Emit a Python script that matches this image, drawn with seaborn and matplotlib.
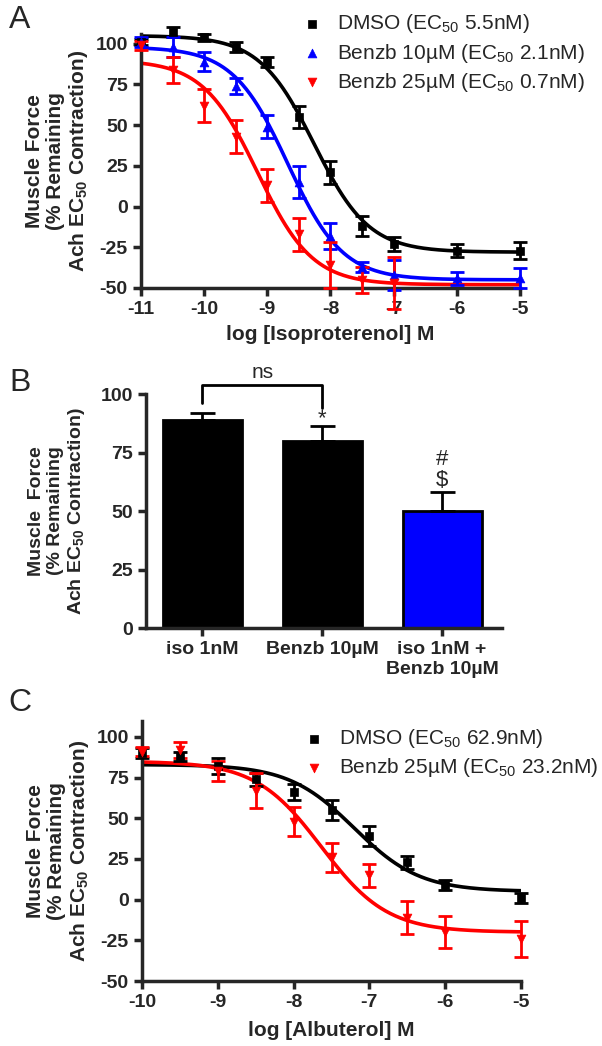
import numpy as np
import pandas as pd
import matplotlib
matplotlib.use('Agg')
import matplotlib.pyplot as plt
import seaborn as sns

# ---- panel A: isoproterenol dose response ----
iso_logdose = [-11, -10.5, -10, -9.5, -9, -8.5, -8, -7.5, -7, -6, -5]
iso_dmso = [101, 107, 104, 98, 89, 55, 21, -12, -23, -27, -27]
iso_dmso_err = [2, 3, 2, 3, 3, 7, 7, 6, 4, 4, 5]
iso_benz10 = [101, 98, 89, 74, 49, 15, -18, -37, -42, -44, -44]
iso_benz10_err = [3, 6, 6, 5, 7, 10, 8, 3, 9, 4, 6]
iso_logdose_b25 = [-11, -10.5, -10, -9.5, -9, -8.5, -8, -7.5, -7]
iso_benz25 = [99, 84, 62, 43, 13, -17, -36, -45, -47]
iso_benz25_err = [3, 8, 10, 10, 10, 10, 14, 8, 16]
# fitted curves: top, bottom, logEC50, hill
iso_fit_dmso = (105, -28, np.log10(5.5e-9), 1.0)
iso_fit_benz10 = (98, -45, np.log10(2.1e-9), 1.0)
iso_fit_benz25 = (90, -48, np.log10(0.7e-9), 1.0)

# ---- panel B: single dose bars ----
bar_labels = ['iso 1nM', 'Benzb 10µM', 'iso 1nM +\nBenzb 10µM']
bar_means = [89, 80, 50]
bar_sem = [3, 6.5, 8]
bar_colors = ['black', 'black', '#0000ff']

# ---- panel C: albuterol dose response ----
alb_logdose = [-10, -9.5, -9, -8.5, -8, -7.5, -7, -6.5, -6, -5]
alb_dmso = [90, 88, 82, 74, 66, 55, 39, 23, 9, 1]
alb_dmso_err = [3, 3, 5, 4, 5, 6, 6, 4, 3, 3]
alb_benz25 = [91, 92, 79, 67, 48, 26, 15, -11, -20, -24]
alb_benz25_err = [3, 5, 6, 11, 9, 9, 7, 10, 10, 11]
alb_fit_dmso = (83, 5, np.log10(62.9e-9), 1.0)
alb_fit_benz25 = (85, -20, np.log10(23.2e-9), 1.0)

sns.set_style('ticks')
plt.rcParams['font.family'] = ['Liberation Sans', 'DejaVu Sans']
plt.rcParams['mathtext.fontset'] = 'custom'
plt.rcParams['mathtext.rm'] = 'Liberation Sans'
plt.rcParams['mathtext.bf'] = 'Liberation Sans:bold'
plt.rcParams['axes.unicode_minus'] = False

YLAB = 'Muscle Force\n(% Remaining\nAch EC$\\mathbf{_{50}}$ Contraction)'
LW = 2.5


def four_pl(x, top, bottom, logec50, hill):
    return bottom + (top - bottom) / (1 + 10 ** ((x - logec50) * hill))


def style_axes(ax, ylab=YLAB, size=15, pad=4):
    sns.despine(ax=ax)
    for s in ['left', 'bottom']:
        ax.spines[s].set_linewidth(LW)
    ax.tick_params(width=LW, length=6, labelsize=14)
    for t in ax.get_xticklabels() + ax.get_yticklabels():
        t.set_fontweight('bold')
    ax.set_ylabel(ylab, fontsize=size, fontweight='bold', linespacing=1.12, labelpad=pad)


def dose_panel(ax, series, xlim, ylim):
    xs = np.linspace(xlim[0], xlim[1], 300)
    for x, y, err, fit, col, mk, lab in series:
        ax.errorbar(x, y, yerr=err, fmt='none', ecolor=col, elinewidth=2,
                    capsize=5, capthick=2, clip_on=False, zorder=3)
        sns.lineplot(x=xs, y=four_pl(xs, *fit), color=col, lw=2.6, ax=ax, zorder=2)
        sns.scatterplot(x=x, y=y, marker=mk, color=col, edgecolor=col, s=40,
                        ax=ax, label=lab, zorder=4, clip_on=False)
    ax.set_xlim(*xlim)
    ax.set_ylim(*ylim)
    ax.set_yticks([-50, -25, 0, 25, 50, 75, 100])
    ax.set_xticks(np.arange(xlim[0], xlim[1] + 1, 1))


fig = plt.figure(figsize=(6.02, 10.46), dpi=100)

# panel A
axA = fig.add_axes([0.2342, 0.7247, 0.6296, 0.2428])
dose_panel(axA, [
    (iso_logdose, iso_dmso, iso_dmso_err, iso_fit_dmso, 'black', 's', 'DMSO (EC$_{50}$ 5.5nM)'),
    (iso_logdose, iso_benz10, iso_benz10_err, iso_fit_benz10, '#0000ff', '^', 'Benzb 10µM (EC$_{50}$ 2.1nM)'),
    (iso_logdose_b25, iso_benz25, iso_benz25_err, iso_fit_benz25, '#ff0000', 'v', 'Benzb 25µM (EC$_{50}$ 0.7nM)'),
], (-11, -5), (-50, 106))
axA.set_xlabel('log [Isoproterenol] M', fontsize=15, fontweight='bold', labelpad=5)
style_axes(axA)
axA.legend(loc='upper left', bbox_to_anchor=(0.425, 1.085), frameon=False, fontsize=15,
           handlelength=1.0, handletextpad=0.7, borderpad=0, borderaxespad=0, labelspacing=0.3)

# panel B
axB = fig.add_axes([0.2425, 0.3996, 0.5914, 0.2237])
bar_df = pd.DataFrame({'group': bar_labels, 'force': bar_means})
sns.barplot(data=bar_df, x='group', y='force', hue='group', palette=bar_colors, saturation=1,
            edgecolor='black', linewidth=2, width=0.66, legend=False, ax=axB)
axB.errorbar(range(len(bar_means)), bar_means, yerr=[[0] * 3, bar_sem], fmt='none',
             ecolor='black', elinewidth=2, capsize=9, capthick=2, zorder=3)
axB.set_xlim(-0.47, 2.5)
axB.set_ylim(0, 100)
axB.set_yticks([0, 25, 50, 75, 100])
axB.set_xlabel('')
style_axes(axB, 'Muscle  Force\n(% Remaining\nAch EC$\\mathbf{_{50}}$ Contraction)', 14, 10)
axB.plot([0, 0, 1, 1], [96, 104, 104, 94], color='black', lw=2, clip_on=False)
axB.text(0.5, 105, 'ns', ha='center', va='bottom', fontsize=15)
axB.text(1, 85, '*', ha='center', va='bottom', fontsize=16)
axB.text(2, 72, '#', ha='center', va='center', fontsize=16)
axB.text(2, 63, '$', ha='center', va='center', fontsize=16)

# panel C
axC = fig.add_axes([0.2359, 0.0621, 0.6296, 0.249])
dose_panel(axC, [
    (alb_logdose, alb_dmso, alb_dmso_err, alb_fit_dmso, 'black', 's', 'DMSO (EC$_{50}$ 62.9nM)'),
    (alb_logdose, alb_benz25, alb_benz25_err, alb_fit_benz25, '#ff0000', 'v', 'Benzb 25µM (EC$_{50}$ 23.2nM)'),
], (-10, -5), (-50, 110))
axC.set_xlabel('log [Albuterol] M', fontsize=15, fontweight='bold', labelpad=7)
style_axes(axC)
axC.legend(loc='upper left', bbox_to_anchor=(0.425, 0.975), frameon=False, fontsize=15,
           handlelength=1.0, handletextpad=0.7, borderpad=0, borderaxespad=0, labelspacing=0.3)

for letter, y in [('A', 0.981), ('B', 0.634), ('C', 0.328)]:
    fig.text(0.033, y, letter, fontsize=23, ha='center', va='center')

fig.savefig('out.png', dpi=100)
